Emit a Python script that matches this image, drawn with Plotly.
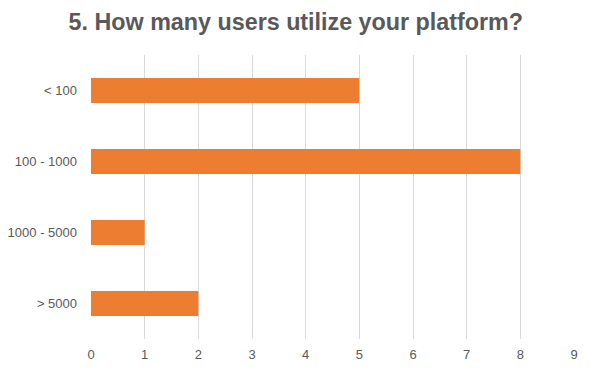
import plotly.graph_objects as go

categories = ["< 100", "100 - 1000", "1000 - 5000", "> 5000"]
values = [5, 8, 1, 2]
x_ticks = list(range(0, 10))

fig = go.Figure(go.Bar(
    x=values, y=categories, orientation="h",
    marker=dict(color="#ED7D31", line=dict(width=0)),
    width=0.352,
))
fig.update_layout(
    width=585, height=367,
    paper_bgcolor="white", plot_bgcolor="white",
    margin=dict(l=83, r=19, t=47, b=36, autoexpand=False),
    font=dict(family="Liberation Sans, Arial, sans-serif", color="#595959", size=13),
    title=dict(text="<b>5. How many users utilize your platform?</b>",
               x=0.492, xanchor="center", y=0.962, yanchor="middle",
               font=dict(size=23.3, color="#595959")),
    showlegend=False,
)
fig.update_xaxes(range=[0, 9], tickvals=x_ticks, showgrid=True, gridcolor="#d9d9d9",
                 gridwidth=1, zeroline=False, showline=False, ticks="",
                 ticklabelstandoff=6, automargin=False, fixedrange=True)
fig.update_yaxes(autorange="reversed", categoryorder="array", categoryarray=categories,
                 showgrid=False, zeroline=False, showline=False, ticks="",
                 ticklabelstandoff=13, automargin=False, fixedrange=True)
fig.write_html("out.html")
